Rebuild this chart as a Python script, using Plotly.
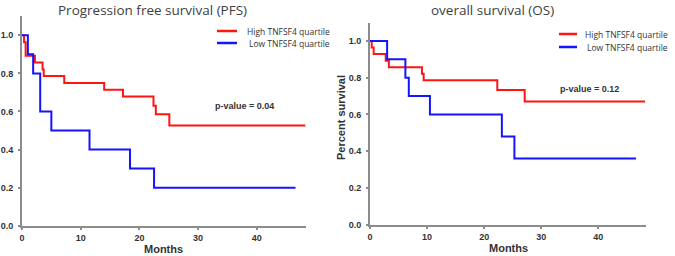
import plotly.graph_objects as go

# ---- data ----
pfs_high_t = [0, 0.35, 0.62, 2.2, 3.5, 3.7, 7.2, 14.0, 17.2, 22.4, 22.8, 25.1, 48.3]
pfs_high_s = [1.0, 0.964, 0.893, 0.857, 0.821, 0.786, 0.75, 0.714, 0.679, 0.63, 0.585, 0.527, 0.527]
pfs_low_t = [0, 1.0, 1.9, 3.1, 5.0, 11.5, 18.4, 22.5, 46.6]
pfs_low_s = [1.0, 0.9, 0.8, 0.6, 0.5, 0.4, 0.3, 0.2, 0.2]

os_high_t = [0, 0.3, 0.64, 2.75, 3.3, 9.1, 9.4, 22.3, 27.1, 48.2]
os_high_s = [1.0, 0.964, 0.929, 0.893, 0.857, 0.821, 0.786, 0.733, 0.671, 0.671]
os_low_t = [0, 3.0, 6.2, 6.8, 10.5, 23.1, 25.3, 46.6]
os_low_s = [1.0, 0.9, 0.8, 0.7, 0.6, 0.48, 0.36, 0.36]

series_names = ["High TNFSF4 quartile", "Low TNFSF4 quartile"]
panel_titles = ["Progression free survival (PFS)", "overall survival (OS)"]
p_values = ["p-value = 0.04", "p-value = 0.12"]
x_title = "Months"
y_title = "Percent survival"
x_ticks = [0, 10, 20, 30, 40]
y_ticks = [0.0, 0.2, 0.4, 0.6, 0.8, 1.0]

RED = "#ff1414"
BLUE = "#1414ff"
W, H = 675, 256

fig = go.Figure()

def add(t, s, name, color, xa, ya):
    fig.add_trace(go.Scatter(x=t, y=s, mode="lines", line=dict(color=color, width=2, shape="hv"),
                             name=name, xaxis=xa, yaxis=ya, showlegend=False))

add(pfs_high_t, pfs_high_s, series_names[0], RED, "x", "y")
add(pfs_low_t, pfs_low_s, series_names[1], BLUE, "x", "y")
add(os_high_t, os_high_s, series_names[0], RED, "x2", "y2")
add(os_low_t, os_low_s, series_names[1], BLUE, "x2", "y2")

tickfont = dict(family="Liberation Sans", size=9, color="#333333", weight="bold")
axis_common = dict(showline=True, linecolor="#8c8c8c", linewidth=2, ticks="outside", ticklen=2,
                   tickcolor="#8c8c8c", tickwidth=1.5, showgrid=False, zeroline=False,
                   tickfont=tickfont, automargin=False)

fig.update_layout(
    width=W, height=H, margin=dict(l=0, r=0, t=0, b=0),
    plot_bgcolor="white", paper_bgcolor="white", showlegend=False,
    xaxis=dict(domain=[22 / W, 305.5 / W], range=[0, 48.3], tickvals=x_ticks, anchor="y",
               **axis_common),
    yaxis=dict(domain=[1 - 225.7 / H, 1 - 16.3 / H], range=[0, 1.1], tickvals=y_ticks,
               tickformat=".1f", anchor="x", ticklabelstandoff=3, **axis_common),
    xaxis2=dict(domain=[370 / W, 645.7 / W], range=[0, 48.3], tickvals=x_ticks, anchor="y2",
                **axis_common),
    yaxis2=dict(domain=[1 - 224.7 / H, 1 - 22.6 / H], range=[0, 1.1], tickvals=y_ticks,
                tickformat=".1f", anchor="x2", ticklabelstandoff=3, **axis_common),
)

def pp(x, y):
    return dict(x=x / W, y=1 - y / H, xref="paper", yref="paper", showarrow=False)

# panel titles
title_font = dict(family="Open Sans", size=13.5, color="#404040")
fig.add_annotation(text=panel_titles[0], **pp(152, 10), font=title_font, xanchor="center", yanchor="middle")
fig.add_annotation(text=panel_titles[1], **pp(492, 10), font=title_font, xanchor="center", yanchor="middle")

# axis titles
tfont = dict(family="Liberation Sans", size=11, color="#333333", weight="bold")
fig.add_annotation(text=x_title, **pp(163, 249), font=tfont, xanchor="center", yanchor="middle")
fig.add_annotation(text=x_title, **pp(508, 248), font=tfont, xanchor="center", yanchor="middle")
fig.add_annotation(text=y_title, **pp(341, 118), font=tfont, xanchor="center", yanchor="middle",
                   textangle=-90)

# p-values
pfont = dict(family="Liberation Sans", size=9, color="#333333", weight="bold")
fig.add_annotation(text=p_values[0], **pp(213, 106), font=pfont, xanchor="left", yanchor="middle")
fig.add_annotation(text=p_values[1], **pp(558, 89), font=pfont, xanchor="left", yanchor="middle")

# legends (line swatch + label)
lfont = dict(family="Open Sans", size=8.5, color="#333333")
legend_rows = [
    # (x0, x1, y, text_right_edge, series index, colour)
    (217, 237, 31, 332, 0, RED), (217, 237, 43, 332, 1, BLUE),
    (559, 577, 34, 670, 0, RED), (559, 577, 47, 670, 1, BLUE),
]
for x0, x1, y, xr, idx, col in legend_rows:
    fig.add_shape(type="line", xref="paper", yref="paper", x0=x0 / W, x1=x1 / W,
                  y0=1 - y / H, y1=1 - y / H, line=dict(color=col, width=2.5))
    fig.add_annotation(text=series_names[idx], **pp(xr, y), font=lfont, xanchor="right", yanchor="middle")

fig.write_html("out.html", config={"displayModeBar": False},
               post_script="document.body.style.margin='0';document.body.style.overflow='hidden';")
